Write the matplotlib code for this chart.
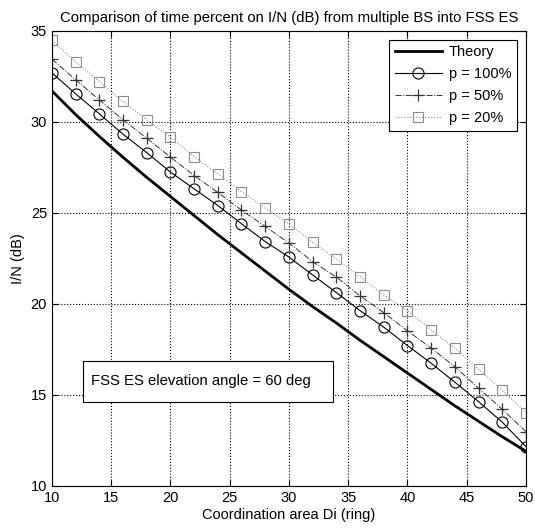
import matplotlib.pyplot as plt
from matplotlib.patches import Rectangle

plt.rcParams['font.family'] = ['Liberation Sans', 'DejaVu Sans']

# coordination area (ring index)
di = [10, 12, 14, 16, 18, 20, 22, 24, 26, 28, 30,
      32, 34, 36, 38, 40, 42, 44, 46, 48, 50]

theory = [31.7, 30.4, 29.2, 28.05, 26.95, 25.9, 24.85, 23.8, 22.8, 21.8, 20.8,
          19.85, 18.95, 18.0, 17.1, 16.2, 15.3, 14.4, 13.55, 12.7, 11.9]
p100 = [32.69, 31.54, 30.44, 29.32, 28.31, 27.24, 26.32, 25.4, 24.4, 23.42, 22.57,
        21.59, 20.62, 19.63, 18.72, 17.71, 16.74, 15.7, 14.63, 13.5, 12.16]
p50 = [33.45, 32.31, 31.21, 30.11, 29.1, 28.06, 27.05, 26.12, 25.15, 24.25, 23.34,
       22.32, 21.47, 20.44, 19.52, 18.52, 17.57, 16.55, 15.37, 14.21, 12.98]
p20 = [34.47, 33.31, 32.21, 31.12, 30.11, 29.16, 28.09, 27.14, 26.17, 25.26, 24.4,
       23.37, 22.46, 21.5, 20.49, 19.63, 18.57, 17.57, 16.41, 15.24, 14.03]

fig = plt.figure(figsize=(5.35, 5.31), dpi=100)
ax = fig.add_axes([0.097, 0.085, 0.886, 0.857])

ax.plot(di, theory, color='black', linewidth=2.0, label='Theory')
ax.plot(di, p100, color='black', linewidth=0.8, marker='o', markersize=8,
        markerfacecolor='none', markeredgewidth=0.8, label='p = 100%')
ax.plot(di, p50, color='#333333', linewidth=0.7, linestyle='-.', marker='+',
        markersize=9, markeredgewidth=0.9, label='p = 50%')
ax.plot(di, p20, color='#8c8c8c', linewidth=0.8, linestyle=':', marker='s',
        markersize=7, markerfacecolor='none', markeredgewidth=0.8, label='p = 20%')

ax.set_xlim(10, 50)
ax.set_ylim(10, 35)
ax.set_xticks(range(10, 51, 5))
ax.set_yticks(range(10, 36, 5))
ax.tick_params(direction='in', labelsize=10.5, length=4, top=True, right=True)
ax.grid(True, color='black', linestyle=':', linewidth=0.8)
for s in ax.spines.values():
    s.set_linewidth(0.8)

ax.set_title('Comparison of time percent on I/N (dB) from multiple BS into FSS ES',
             fontsize=10.7, pad=6)
ax.set_xlabel('Coordination area Di (ring)', fontsize=10.5, labelpad=2)
ax.set_ylabel('I/N (dB)', fontsize=10.5, labelpad=4)

leg = ax.legend(loc='upper right', fontsize=10.5, handlelength=3.2, fancybox=False,
                framealpha=1, edgecolor='black', borderaxespad=0.6, labelspacing=0.55,
                handletextpad=0.5)
leg.get_frame().set_linewidth(0.8)

# annotation box
ax.add_patch(Rectangle((12.6, 14.62), 21.1, 2.25, facecolor='white',
                       edgecolor='black', linewidth=0.8, zorder=4))
ax.text(13.3, 15.75, 'FSS ES elevation angle = 60 deg', fontsize=10.7,
        va='center', zorder=5)

fig.savefig('out.png', dpi=100)
